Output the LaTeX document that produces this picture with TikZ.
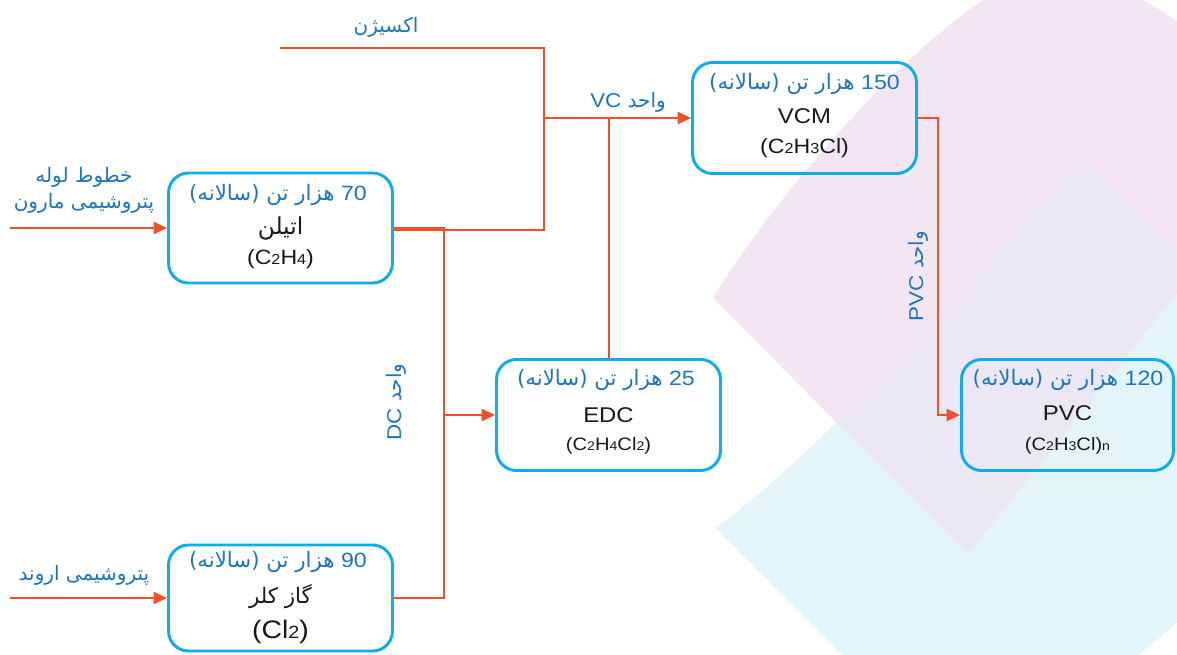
\documentclass[tikz,border=0pt]{standalone}
\usepackage{fontspec}
\usepackage{graphicx}
\setmainfont{Liberation Sans}[FakeStretch=1.12]
\newfontfamily\arabicfont[Script=Arabic]{DejaVu Sans}
\TeXXeTstate=1
\usetikzlibrary{arrows.meta,calc}
\definecolor{boxc}{RGB}{12,173,238}
\definecolor{capc}{RGB}{28,118,188}
\definecolor{flowc}{RGB}{240,80,40}
\definecolor{pinkc}{RGB}{243,230,242}
\definecolor{bluec}{RGB}{228,244,251}
\definecolor{lavc}{RGB}{235,231,244}
\definecolor{inkc}{RGB}{25,25,25}
\newcommand\sbs[1]{\scalebox{0.7}{#1}}
\newcommand\tonnage[1]{\beginR{\rmfamily #1} {\arabicfont\fontsize{16}{19}\selectfont هزار تن (سالانه)}\endR}
\newcommand\fa[1]{{\arabicfont\beginR #1\endR}}
\begin{document}
\begin{tikzpicture}[x=0.75pt,y=-0.75pt,
  unit/.style 2 args={draw=boxc,line width=2.2pt,rounded corners=15pt,minimum width=#1*0.75pt,minimum height=#2*0.75pt,inner sep=0pt},
  flow/.style={draw=flowc,line width=1.5pt},
  arr/.style={-{Triangle[length=10pt,width=9pt]}},
  capt/.style={text=capc,font=\fontsize{15.5}{18}\selectfont,inner sep=0pt,anchor=base},
  nm/.style={text=inkc,font=\fontsize{16}{19}\selectfont,inner sep=0pt,anchor=base},
  fml/.style={text=inkc,font=\fontsize{15.5}{18}\selectfont,inner sep=0pt,anchor=base},
  fmls/.style={text=inkc,font=\fontsize{13.5}{16}\selectfont,inner sep=0pt,anchor=base},
  fmlb/.style={text=inkc,font=\fontsize{19}{22}\selectfont,inner sep=0pt,anchor=base},
  lbl/.style={text=capc,font=\fontsize{15}{20}\selectfont,inner sep=0pt,anchor=base}]
\useasboundingbox (0,0) rectangle (1177,654);
\fill[white] (0,0) rectangle (1177,654);
% background shapes
\begin{scope}
\clip (0,0) rectangle (1177,654);
\fill[pinkc] (713,298) .. controls (760,220) and (880,70) .. (983,0) -- (1005,-20) -- (1111,-20) -- (1323,111) -- (968,555) -- cycle;
\fill[bluec] (715,528) .. controls (800,470) and (980,280) .. (1083,157) -- (1379,453) -- (978,790) -- cycle;
\clip (715,528) .. controls (800,470) and (980,280) .. (1083,157) -- (1379,453) -- (978,790) -- cycle;
\fill[lavc] (713,298) .. controls (760,220) and (880,70) .. (983,0) -- (1005,-20) -- (1111,-20) -- (1323,111) -- (968,555) -- cycle;
\end{scope}
% boxes
\node[unit={224}{110}] (eth) at (280.5,228) {};
\node[unit={224}{106}] (cl) at (280.5,598) {};
\node[unit={224}{111}] (edc) at (608.5,415) {};
\node[unit={224}{111}] (vcm) at (804.5,118) {};
\node[unit={212}{111}] (pvc) at (1067.5,415) {};
% box texts
\node[capt] (eth-t) at (278,200) {\tonnage{70}};
\node[nm,font=\fontsize{17.5}{20}\selectfont] (eth-n) at (280.5,234) {\fa{اتیلن}};
\node[fml] (eth-f) at (280.5,264) {(C\sbs{2}H\sbs{4})};
\node[capt] (cl-t) at (278,567) {\tonnage{90}};
\node[nm] (cl-n) at (280.5,603) {\fa{گاز کلر}};
\node[fmlb] (cl-f) at (280.5,638) {(Cl\sbs{2})};
\node[capt] (edc-t) at (606,385) {\tonnage{25}};
\node[nm] (edc-n) at (608.5,422) {EDC};
\node[fmls] (edc-f) at (608.5,450) {(C\sbs{2}H\sbs{4}Cl\sbs{2})};
\node[capt] (vcm-t) at (804.5,89) {\tonnage{150}};
\node[nm] (vcm-n) at (804.5,123) {VCM};
\node[fml] (vcm-f) at (804.5,153) {(C\sbs{2}H\sbs{3}Cl)};
\node[capt] (pvc-t) at (1068,385) {\tonnage{120}};
\node[nm] (pvc-n) at (1067.5,420) {PVC};
\node[fmls] (pvc-f) at (1067.5,450) {(C\sbs{2}H\sbs{3}Cl)\sbs{n}};
% labels
\node[lbl] (maroon-a) at (84,182) {\fa{خطوط لوله}};
\node[lbl] (maroon-b) at (84,208) {\fa{پتروشیمی مارون}};
\node[lbl] (arvand) at (84,580) {\fa{پتروشیمی اروند}};
\node[lbl] (oxy) at (386,32) {\fa{اکسیژن}};
\node[lbl] (vc-lbl) at (628,107) {\beginR{\arabicfont واحد} VC\endR};
\node[lbl,anchor=center,rotate=90] (dc-lbl) at (396,402) {\beginR{\arabicfont واحد} DC\endR};
\node[lbl,anchor=center,rotate=90] (pvcu-lbl) at (918,276) {\beginR{\arabicfont واحد} PVC\endR};
% coordinates
\coordinate (maroon-in) at (10,228);
\coordinate (arvand-in) at (10,598);
\coordinate (ox-in) at (280,48);
\coordinate (ox-c) at (543.5,48);
\coordinate (vc-j) at (543.5,118);
\coordinate (eth-c) at (543.5,229.5);
\coordinate (dc-top) at (444,228);
\coordinate (dc-bot) at (444,598);
\coordinate (dc-j) at (444,415);
\coordinate (pvc-c1) at (938,118);
\coordinate (pvc-c2) at (938,415);
% connectors
\draw[flow,arr] (maroon-in) -- (eth.west);
\draw[flow,arr] (arvand-in) -- (cl.west);
\draw[flow] (ox-in) -- (ox-c) -- (vc-j);
\draw[flow,arr] (vc-j) -- (vcm.west);
\draw[flow] ($(eth.east)+(0,1.5)$) -- (eth-c) -- (vc-j);
\draw[flow] (eth.east) -- (dc-top) -- (dc-bot) -- (cl.east);
\draw[flow,arr] (dc-j) -- (edc.west);
\draw[flow] (edc.north) -- (edc.north |- vc-j);
\draw[flow,arr] (vcm.east) -- (pvc-c1) -- (pvc-c2) -- (pvc.west);
\end{tikzpicture}
\end{document}
